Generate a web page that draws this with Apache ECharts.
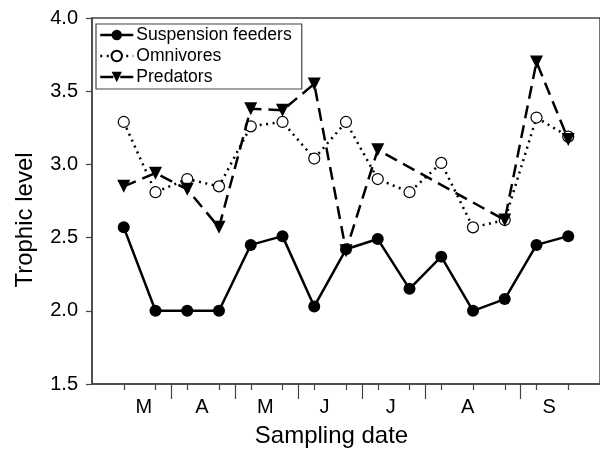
<!DOCTYPE html>
<html>
<head>
<meta charset="utf-8">
<script src="https://cdn.jsdelivr.net/npm/echarts@6/dist/echarts.min.js"></script>
<style>
    html, body { margin: 0; padding: 0; background: #fff; }
    #chart { width: 600px; height: 453px; }
</style>
</head>
<body>
<div id="chart"></div>
<script>
// sampling dates, in order (index along the x axis)
var sampleIdx = [0, 1, 2, 3, 4, 5, 6, 7, 8, 9, 10, 11, 12, 13, 14];
var suspensionFeeders = [2.57, 2.00, 2.00, 2.00, 2.45, 2.51, 2.03, 2.42, 2.49, 2.15, 2.37, 2.00, 2.08, 2.45, 2.51];
var omnivores = [3.29, 2.81, 2.90, 2.85, 3.26, 3.29, 3.04, 3.29, 2.90, 2.81, 3.01, 2.57, 2.62, 3.32, 3.19];
var predators = [2.85, 2.94, 2.83, 2.57, 3.38, 3.37, 3.55, 2.41, 3.10, null, null, null, 2.62, 3.70, 3.17];
// month labels and where they sit between sampling dates
var monthLabels = ['M', 'A', 'M', 'J', 'J', 'A', 'S'];
var monthPos = [0.63, 2.46, 4.46, 6.32, 8.41, 10.83, 13.4];
var monthBounds = [1.5, 3.5, 5.5, 7.5, 9.5, 12.5];

var FONT = 'Liberation Sans';
var AXIS_COLOR = '#444';

function pairs(vals) {
    var out = [];
    for (var i = 0; i < sampleIdx.length; i++) {
        if (vals[i] != null) out.push([sampleIdx[i], vals[i]]);
    }
    return out;
}

var myChart = echarts.init(document.getElementById('chart'));
var option = {
    animation: false,
    textStyle: { fontFamily: FONT, color: '#000' },
    grid: {
        left: 92,
        top: 18,
        width: 511,
        height: 368,
        show: true,
        borderColor: AXIS_COLOR,
        borderWidth: 1.5
    },
    legend: {
        orient: 'vertical',
        left: 96,
        top: 24,
        padding: [2, 10, 3, 3],
        itemGap: 3,
        itemWidth: 33,
        itemHeight: 13,
        borderColor: AXIS_COLOR,
        borderWidth: 1.2,
        backgroundColor: '#fff',
        lineStyle: { width: 2.5 },
        textStyle: { fontFamily: FONT, fontSize: 17.6, color: '#000', padding: [0, 0, 0, -2] },
        data: ['Suspension feeders', 'Omnivores', 'Predators']
    },
    xAxis: [{
        type: 'value',
        min: -1,
        max: 15,
        position: 'bottom',
        splitLine: { show: false },
        axisLine: { onZero: false, lineStyle: { color: AXIS_COLOR, width: 1.5 } },
        axisTick: { length: 6, customValues: sampleIdx, lineStyle: { color: AXIS_COLOR, width: 1.2 } },
        axisLabel: { show: false },
        name: 'Sampling date',
        nameLocation: 'middle',
        nameGap: 40,
        nameTextStyle: { fontFamily: FONT, fontSize: 24, color: '#000', padding: [0, 29, 0, 0] }
    }, {
        type: 'value',
        min: -1,
        max: 15,
        position: 'bottom',
        splitLine: { show: false },
        axisLine: { show: false, onZero: false },
        axisTick: { length: 15, customValues: monthBounds, lineStyle: { color: AXIS_COLOR, width: 1.2 } },
        axisLabel: {
            customValues: monthPos,
            margin: 13,
            fontFamily: FONT,
            fontSize: 20,
            color: '#000',
            formatter: function (v) {
                var k = monthPos.indexOf(v);
                return k >= 0 ? monthLabels[k] : '';
            }
        }
    }],
    yAxis: {
        type: 'value',
        min: 1.5,
        max: 4.0,
        interval: 0.5,
        splitLine: { show: false },
        axisLine: { show: true, onZero: false, lineStyle: { color: AXIS_COLOR, width: 1.5 } },
        axisTick: { show: true, length: 6, lineStyle: { color: AXIS_COLOR, width: 1.2 } },
        axisLabel: {
            margin: 14,
            fontFamily: FONT,
            fontSize: 20,
            color: '#000',
            formatter: function (v) { return v.toFixed(1); }
        },
        name: 'Trophic level',
        nameLocation: 'middle',
        nameGap: 55,
        nameTextStyle: { fontFamily: FONT, fontSize: 24, color: '#000', padding: [0, 38, 0, 0] }
    },
    series: [{
        name: 'Suspension feeders',
        type: 'line',
        data: pairs(suspensionFeeders),
        symbol: 'circle',
        symbolSize: 12,
        itemStyle: { color: '#000' },
        lineStyle: { color: '#000', width: 2.5 },
        z: 2
    }, {
        name: 'Omnivores',
        type: 'line',
        data: pairs(omnivores),
        symbol: 'circle',
        symbolSize: 11,
        itemStyle: { color: '#fff', borderColor: '#000', borderWidth: 1.2 },
        lineStyle: { color: '#000', width: 2.5, type: [2, 4.5] },
        z: 3
    }, {
        name: 'Predators',
        type: 'line',
        data: pairs(predators),
        symbol: 'triangle',
        symbolRotate: 180,
        symbolSize: 13,
        itemStyle: { color: '#000' },
        lineStyle: { color: '#000', width: 2.5, type: [13, 7] },
        z: 4
    }]
};
myChart.setOption(option);
</script>
</body>
</html>
